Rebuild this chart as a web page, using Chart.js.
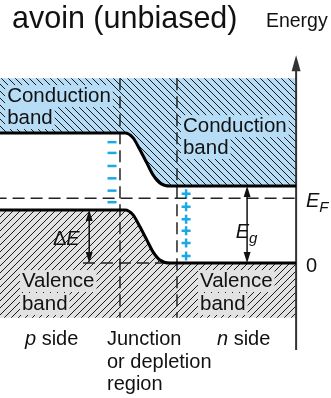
<!DOCTYPE html>
<html>
<head>
<meta charset="utf-8">
<script src="https://cdn.jsdelivr.net/npm/chart.js@4.4.1/dist/chart.umd.min.js"></script>
<style>
  html, body { margin: 0; padding: 0; background: #fff; }
  #wrap { width: 331px; height: 398px; }
</style>
</head>
<body>
<div id="wrap"><canvas id="bandChart" width="331" height="398"></canvas></div>
<script>
// position: junction width = 1 ; energy: n-side valence edge = 0, gap = 1
const xEdges = [-2.2, 0.09, 0.23, 0.35, 0.47, 0.58, 0.70, 0.88, 3.09];
const conductionEdge = [1.69, 1.69, 1.625, 1.47, 1.30, 1.145, 1.04, 1.0, 1.0];
const valenceEdge = [0.69, 0.69, 0.625, 0.47, 0.30, 0.145, 0.04, 0.0, 0.0];
const bandLimits = [2.4, -0.71];
const fermiLevel = 0.84;
const junctionBounds = [0, 1];
const axisX = 3.09;
const axisRange = [-1.13, 2.70];

const minusX = -0.14;
const minusY = [1.57, 1.43, 1.26, 1.10, 0.94, 0.79];
const plusX = 1.16;
const plusY = [0.90, 0.73, 0.57, 0.42, 0.26, 0.09];

const deltaEX = -0.54;
const gapX = 2.23;
const refLineX = [-0.65, 0.88];

const FONT = "'Liberation Sans', Arial, Helvetica, sans-serif";
const BLUE = "rgb(182, 221, 245)";
const GREY = "rgb(226, 226, 226)";
const CHARGE = "rgb(28, 168, 230)";
const DASH = [12, 6];

function hatch(bg, dir) {
  const s = 7;
  const c = document.createElement("canvas");
  c.width = s;
  c.height = s;
  const g = c.getContext("2d");
  g.fillStyle = bg;
  g.fillRect(0, 0, s, s);
  g.strokeStyle = "#1a1a1a";
  g.lineWidth = 1;
  for (let k = -1; k <= 1; k++) {
    g.beginPath();
    if (dir === "\\") {
      g.moveTo(k * s, 0);
      g.lineTo(k * s + s, s);
    } else {
      g.moveTo(k * s, s);
      g.lineTo(k * s + s, 0);
    }
    g.stroke();
  }
  return g.createPattern(c, "repeat");
}

const pts = (xs, ys) => xs.map((x, i) => ({ x, y: ys[i] }));
const flat = (y) => [{ x: xEdges[0], y }, { x: xEdges[xEdges.length - 1], y }];
const vert = (x, y0, y1) => [{ x, y: y0 }, { x, y: y1 }];

// labels: [text, x, y, background]
const bandLabels = [
  ["Conduction", -1.98, 2.09, BLUE],
  ["band", -1.98, 1.805, BLUE],
  ["Conduction", 1.105, 1.70, BLUE],
  ["band", 1.105, 1.416, BLUE],
  ["Valence", -1.72, -0.312, GREY],
  ["band", -1.72, -0.61, GREY],
  ["Valence", 1.404, -0.312, GREY],
  ["band", 1.404, -0.61, GREY],
];

function arrowHead(ctx, x, y, dir, w, h) {
  ctx.beginPath();
  ctx.moveTo(x, y);
  ctx.lineTo(x - w / 2, y - dir * h);
  ctx.lineTo(x + w / 2, y - dir * h);
  ctx.closePath();
  ctx.fill();
}

function richText(ctx, parts, x, y) {
  // parts: [text, style, size, dy]
  let cx = x;
  parts.forEach(([t, style, size, dy]) => {
    ctx.font = `${style} ${size}px ${FONT}`;
    ctx.fillText(t, cx, y + (dy || 0));
    cx += ctx.measureText(t).width;
  });
}

const annotations = {
  id: "annotations",
  afterDatasetsDraw(chart) {
    const { ctx } = chart;
    const X = (v) => chart.scales.x.getPixelForValue(v);
    const Y = (v) => chart.scales.y.getPixelForValue(v);
    ctx.save();
    ctx.textBaseline = "alphabetic";
    ctx.textAlign = "left";

    ctx.font = `20.5px ${FONT}`;
    bandLabels.forEach(([t, x, y, bg]) => {
      const w = ctx.measureText(t).width;
      ctx.fillStyle = bg;
      ctx.fillRect(X(x) - 2, Y(y) - 17, w + 4, 22);
      ctx.fillStyle = "#111";
      ctx.fillText(t, X(x), Y(y));
    });

    // arrows
    ctx.fillStyle = "#111";
    ctx.strokeStyle = "#111";
    ctx.lineWidth = 1.5;
    [[deltaEX, valenceEdge[0], 0], [gapX, conductionEdge[conductionEdge.length - 1], 0]].forEach(([x, top, bot]) => {
      ctx.beginPath();
      ctx.moveTo(X(x), Y(top) + 8);
      ctx.lineTo(X(x), Y(bot) - 8);
      ctx.stroke();
      arrowHead(ctx, X(x), Y(top), -1, 7, 11);
      arrowHead(ctx, X(x), Y(bot), 1, 7, 11);
    });
    ctx.fillStyle = "#333";
    arrowHead(ctx, X(axisX), Y(axisRange[1]), -1, 9, 16);

    ctx.fillStyle = "#111";
    richText(ctx, [["avoin (unbiased)", "", 30.5]], X(-1.895), Y(3.052));
    richText(ctx, [["Energy", "", 19.5]], X(2.56), Y(3.065));
    richText(ctx, [["\u0394", "", 20], ["E", "italic", 20]], X(-1.175), Y(0.234));
    richText(ctx, [["E", "italic", 20], ["g", "italic", 15, 5]], X(2.03), Y(0.325));
    richText(ctx, [["E", "italic", 20], ["F", "italic", 15, 5]], X(3.263), Y(0.727));
    richText(ctx, [["0", "", 20]], X(3.263), Y(-0.117));
    richText(ctx, [["p", "italic", 20], [" side", "", 20]], X(-1.667), Y(-1.065));
    richText(ctx, [["n", "italic", 20], [" side", "", 20]], X(1.702), Y(-1.065));
    richText(ctx, [["Junction", "", 20]], X(-0.228), Y(-1.065));
    richText(ctx, [["or depletion", "", 20]], X(-0.228), Y(-1.364));
    richText(ctx, [["region", "", 20]], X(-0.228), Y(-1.649));
    ctx.restore();
  },
};

const lineDs = (data, extra) => Object.assign({
  data,
  borderColor: "#222",
  borderWidth: 1.5,
  pointRadius: 0,
  fill: false,
}, extra);

new Chart(document.getElementById("bandChart"), {
  type: "line",
  data: {
    datasets: [
      lineDs(pts(xEdges, conductionEdge), { borderColor: "#000", borderWidth: 3, cubicInterpolationMode: "monotone", fill: 1, backgroundColor: hatch(BLUE, "\\") }),
      lineDs(flat(bandLimits[0]), { borderWidth: 0, borderColor: "rgba(0,0,0,0)" }),
      lineDs(pts(xEdges, valenceEdge), { borderColor: "#000", borderWidth: 3, cubicInterpolationMode: "monotone", fill: 3, backgroundColor: hatch(GREY, "/") }),
      lineDs(flat(bandLimits[1]), { borderWidth: 0, borderColor: "rgba(0,0,0,0)" }),
      lineDs(flat(fermiLevel), { borderDash: DASH }),
      lineDs(vert(junctionBounds[0], bandLimits[0], bandLimits[1]), { borderDash: DASH }),
      lineDs(vert(junctionBounds[1], bandLimits[0], bandLimits[1]), { borderDash: DASH }),
      lineDs([{ x: refLineX[0], y: 0 }, { x: refLineX[1], y: 0 }], { borderDash: DASH }),
      lineDs(vert(axisX, axisRange[0], axisRange[1] - 0.15), { borderColor: "#333", borderWidth: 2 }),
      lineDs(minusY.map((y) => ({ x: minusX, y })), { showLine: false, pointStyle: "line", pointRadius: 4.5, pointBorderWidth: 2.5, pointBorderColor: CHARGE }),
      lineDs(plusY.map((y) => ({ x: plusX, y })), { showLine: false, pointStyle: "cross", pointRadius: 4.5, pointBorderWidth: 2.5, pointBorderColor: CHARGE }),
    ],
  },
  options: {
    responsive: false,
    animation: false,
    layout: { padding: 0, autoPadding: false },
    scales: {
      x: { type: "linear", min: -2.105, max: 3.702, display: false },
      y: { type: "linear", min: -1.753, max: 3.416, display: false },
    },
    plugins: {
      legend: { display: false },
      tooltip: { enabled: false },
      filler: { drawTime: "beforeDatasetsDraw" },
    },
  },
  plugins: [annotations],
});
</script>
</body>
</html>
